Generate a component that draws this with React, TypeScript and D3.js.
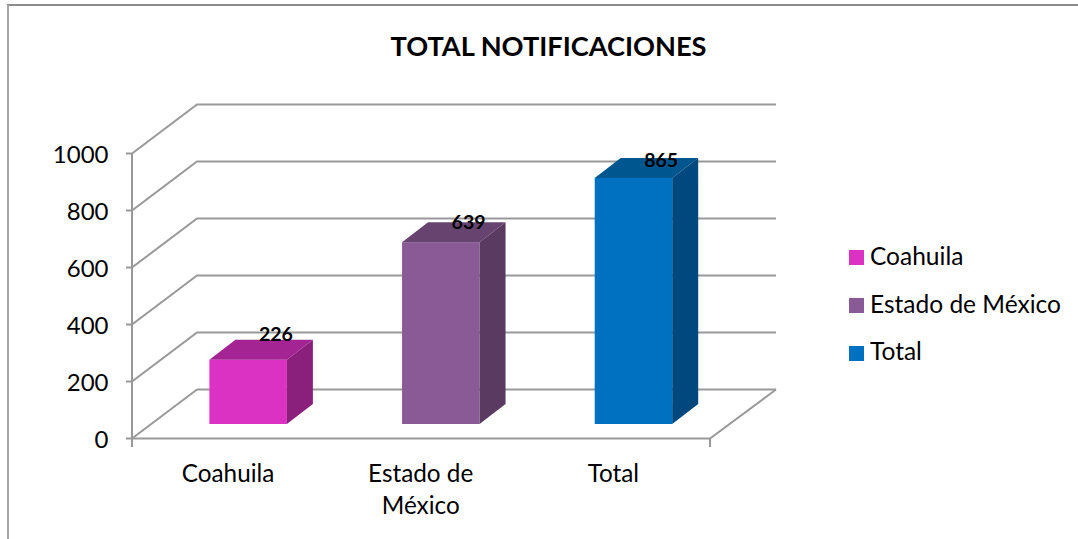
import React from "react";
import * as d3 from "d3";

const categories = ["Coahuila", "Estado de México", "Total"];
const categoryLines = [["Coahuila"], ["Estado de", "México"], ["Total"]];
const values = [226, 639, 865];
const ticks = [0, 200, 400, 600, 800, 1000];
const frontColors = ["#DC32C4", "#8A5A96", "#0070C0"];
const topColors = ["#A42494", "#674370", "#00568F"];
const sideColors = ["#8A1F7C", "#5A3A60", "#00487E"];

const font = "Lato, Carlito, sans-serif";
const grey = "#999999";
const depthX = 65, depthY = 49;
const barDX = 26, barDY = 20;
const x = d3.scaleBand<string>().domain(categories).range([132, 710]);
const y = d3.scaleLinear().domain([0, 1000]).range([438.5, 153.5]);
const barH = d3.scaleLinear().domain([0, 1000]).range([0, 284.5]);
const labelY = d3.scaleLinear().domain([0, 1000]).range([402.5, 130.5]);
const barBase = 424, barWidth = 77.5, barShift = 19.8;

export default function App() {
  const pts = (a: number[][]) => a.map((p) => p.join(",")).join(" ");
  return (
    <svg width={1078} height={539} style={{ position: "fixed", left: 0, top: 0, background: "#fff" }}>
      <line x1={7} x2={1078} y1={5} y2={5} stroke="#8C8C8C" strokeWidth={2} />
      <line x1={8} x2={8} y1={5} y2={539} stroke="#A6A6A6" strokeWidth={2} />
      <text x={548.5} y={56} textAnchor="middle" fontFamily={font} fontWeight={700} fontSize={27.2} fill="#000">TOTAL NOTIFICACIONES</text>

      <g fill="none" stroke={grey} strokeWidth={2}>
        {ticks.map((t) => (
          <polyline key={t} points={pts(t === 0
            ? [[126, y(t)], [710, y(t)], [710 + depthX + 1, y(t) - depthY]]
            : [[126, y(t)], [132, y(t)], [132 + depthX, y(t) - depthY], [776, y(t) - depthY]])} />
        ))}
        <line x1={132} x2={132} y1={y(1000)} y2={447} />
        <line x1={132} x2={132 + depthX} y1={y(0)} y2={y(0) - depthY} />
        <line x1={197} x2={776} y1={y(0) - depthY} y2={y(0) - depthY} />
        <line x1={710} x2={710} y1={438} y2={447} />
      </g>

      {ticks.map((t) => (
        <text key={t} x={108.5} y={y(t) + 9} textAnchor="end" fontFamily={font} fontSize={24} fill="#000">{t}</text>
      ))}

      {categories.map((c, i) => {
        const cx = x(c)! + x.bandwidth() / 2;
        const left = cx + barShift - barWidth / 2;
        const right = left + barWidth;
        const top = barBase - barH(values[i]);
        return (
          <g key={c}>
            <rect x={left} y={top} width={barWidth} height={barBase - top} fill={frontColors[i]} />
            <polygon points={pts([[left, top], [right, top], [right + barDX, top - barDY], [left + barDX, top - barDY]])} fill={topColors[i]} />
            <polygon points={pts([[right, top], [right + barDX, top - barDY], [right + barDX, barBase - barDY], [right, barBase]])} fill={sideColors[i]} />
            <text x={left + 66.5} y={labelY(values[i])} textAnchor="middle" fontFamily={font} fontWeight={700} fontSize={19.5} fill="#000">{values[i]}</text>
            {categoryLines[i].map((l, k) => (
              <text key={l} x={cx - 0.3} y={482 + k * 32} textAnchor="middle" fontFamily={font} fontSize={24.3} fill="#000">{l}</text>
            ))}
          </g>
        );
      })}

      {categories.map((c, i) => (
        <g key={c}>
          <rect x={849} y={250 + i * 48} width={15} height={15} fill={frontColors[i]} />
          <text x={870} y={265 + i * 47.5} fontFamily={font} fontSize={24.5} fill="#000">{c}</text>
        </g>
      ))}
    </svg>
  );
}
